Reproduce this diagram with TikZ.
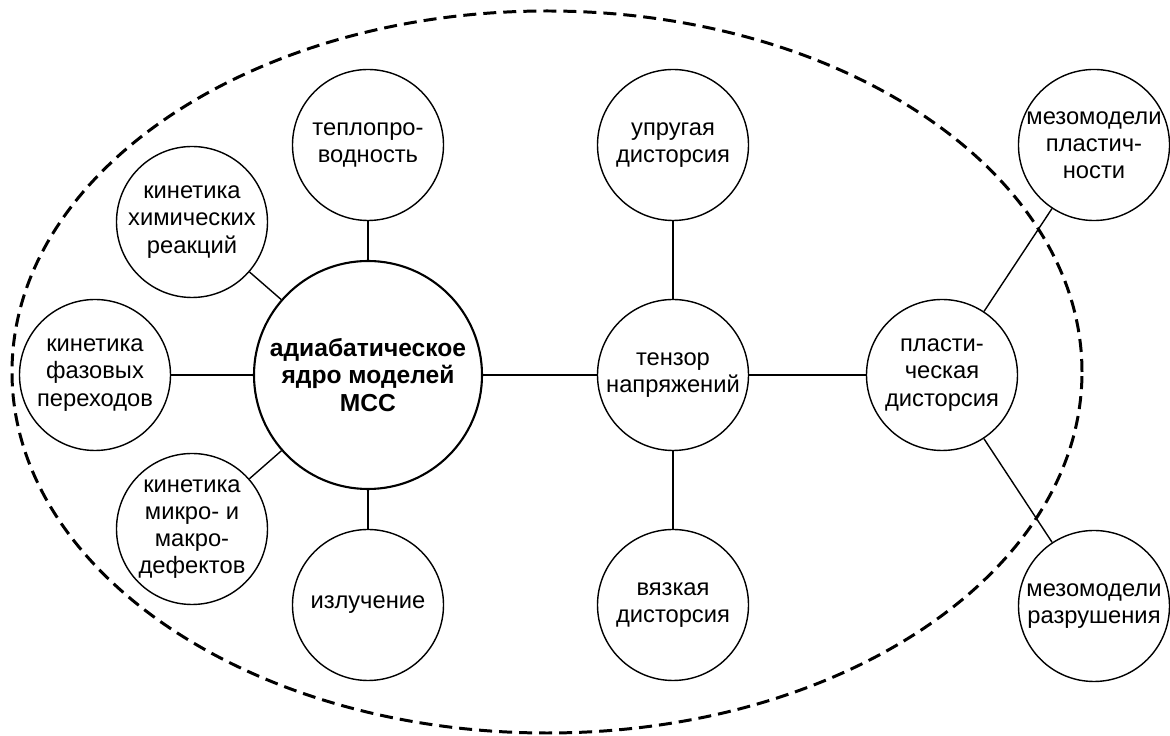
\documentclass[tikz,border=0pt]{standalone}
\usepackage{fontspec}
\setmainfont{Liberation Sans}
\usetikzlibrary{positioning}

\tikzset{
  bubble/.style={circle,draw,line width=0.8pt,fill=white,minimum size=3.02cm,
    inner sep=0pt,align=center,font=\fontsize{13.5}{15.5}\selectfont},
  core/.style={bubble,line width=1.2pt,minimum size=4.56cm,
    font=\fontsize{14}{15.5}\selectfont\bfseries},
  link/.style={line width=0.8pt},
  hlink/.style={line width=1pt},
  frame/.style={line width=1.7pt,dash pattern=on 7.4pt off 4pt}
}

\begin{document}
\begin{tikzpicture}
    \useasboundingbox (0,0) rectangle (23.4,14.72);
    % outer border
    \draw[frame] (10.94,7.28) ellipse [x radius=10.7cm, y radius=7.22cm];

    % core and its satellites
    \node[core] (core) at (7.36,7.22) {адиабатическое\\ядро моделей\\МСС};
    \node[bubble] (heat) at (7.36,11.82) {теплопро-\\водность};
    \node[bubble] (chem) at (3.84,10.28) {кинетика\\химических\\реакций};
    \node[bubble] (phase) at (1.9,7.22) {кинетика\\фазовых\\переходов};
    \node[bubble] (defect) at (3.84,4.14) {кинетика\\микро- и\\макро-\\дефектов};
    \node[bubble] (rad) at (7.36,2.62) {излучение};

    % stress branch
    \node[bubble] (stress) at (13.46,7.22) {тензор\\напряжений};
    \node[bubble] (elast) at (13.46,11.82) {упругая\\дисторсия};
    \node[bubble] (visc) at (13.46,2.62) {вязкая\\дисторсия};
    \node[bubble] (plast) at (18.84,7.22) {пласти-\\ческая\\дисторсия};
    \node[bubble] (mesoP) at (21.88,11.82) {мезомодели\\пластич-\\ности};
    \node[bubble] (mesoF) at (21.88,2.6) {мезомодели\\разрушения};

    \draw[link] (core) -- (heat);
    \draw[link] (core) -- (chem);
    \draw[hlink] (core) -- (phase);
    \draw[link] (core) -- (defect);
    \draw[link] (core) -- (rad);
    \draw[hlink] (core) -- (stress);
    \draw[link] (stress) -- (elast);
    \draw[link] (stress) -- (visc);
    \draw[hlink] (stress) -- (plast);
    \draw[link] (plast) -- (mesoP);
    \draw[link] (plast) -- (mesoF);
\end{tikzpicture}
\end{document}
